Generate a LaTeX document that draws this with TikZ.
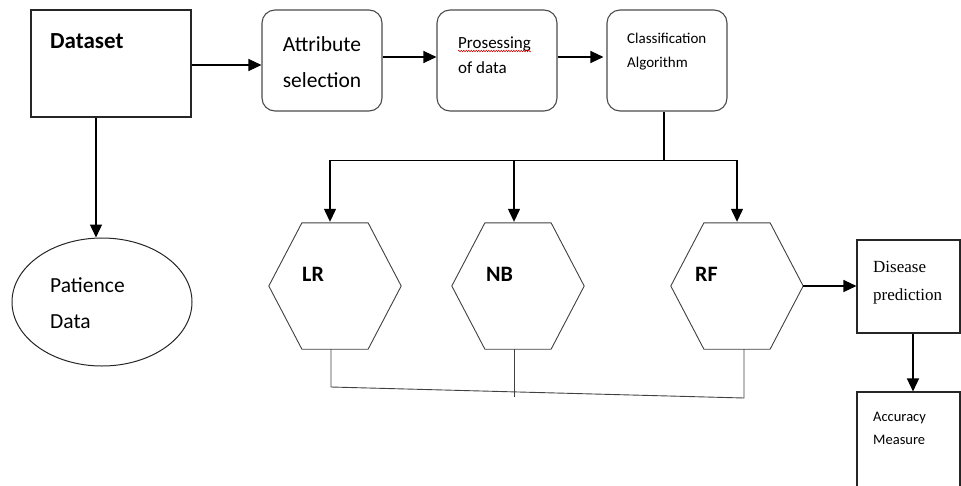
\documentclass[tikz,border=0pt]{standalone}
\usepackage{fontspec}
\setmainfont{Carlito}
\newfontfamily\timesf{Liberation Serif}
\usetikzlibrary{arrows.meta,shapes.geometric,calc,decorations.pathmorphing}
\begin{document}
\begin{tikzpicture}[x=1pt,y=-1pt,
  box/.style={draw=black!85,line width=1.1pt,inner sep=0pt},
  rbox/.style={box,rounded corners=13pt,draw=black!70},
  hexa/.style={inner sep=0pt,minimum width=132pt,minimum height=126pt},
  hexline/.style={draw=black!75,line width=0.9pt},
  conn/.style={line width=1.3pt,black},
  arr/.style={conn,-{Triangle[length=13pt,width=12pt]}},
  txt/.style={inner sep=0pt,anchor=base west}]
\useasboundingbox (0,0) rectangle (961,485);
\clip (0,0) rectangle (961,485);
% boxes
\node[box,minimum width=160pt,minimum height=107pt] (ds) at (111,63.5) {};
\node[rbox,minimum width=120pt,minimum height=101pt] (at) at (322,60.5) {};
\node[rbox,minimum width=120pt,minimum height=101pt] (pr) at (497,60.5) {};
\node[rbox,minimum width=120pt,minimum height=101pt] (cl) at (667,60.5) {};
\node[box,minimum width=103pt,minimum height=93pt] (dp) at (908.5,286.5) {};
\node[box,minimum width=103pt,minimum height=110pt] (ac) at (908.5,447) {};
\node[ellipse,box,line width=1pt,minimum width=180pt,minimum height=128pt] (pd) at (102,302) {};
% hexagons
\node[hexa] (LR) at (335,286) {};
\node[hexa] (NB) at (518,286) {};
\node[hexa] (RF) at (737,286) {};
\foreach \h in {LR,NB,RF}{
  \draw[hexline] (\h.west) -- ($(\h.north west)!0.25!(\h.north east)$)
    -- ($(\h.north west)!0.75!(\h.north east)$) -- (\h.east)
    -- ($(\h.south west)!0.75!(\h.south east)$)
    -- ($(\h.south west)!0.25!(\h.south east)$) -- cycle;
}
% texts
\node[txt,font=\fontsize{23}{27}\selectfont\bfseries] (tds) at (50,48) {Dataset};
\node[inner sep=0pt,anchor=base,font=\fontsize{21.5}{26}\selectfont] (tat1) at (322,51) {Attribute};
\node[inner sep=0pt,anchor=base,font=\fontsize{21.5}{26}\selectfont] (tat2) at (322,87) {selection};
\node[txt,font=\fontsize{17}{20}\selectfont] (tpr1) at (458,48) {Prosessing};
\node[txt,font=\fontsize{17}{20}\selectfont] (tpr2) at (458,73) {of data};
\draw[red!80!black,line width=0.5pt,decorate,decoration={snake,amplitude=0.8pt,segment length=2.5pt}]
  ([yshift=-3pt]tpr1.base west) -- ([yshift=-3pt]tpr1.base east);
\node[txt,font=\fontsize{15}{18}\selectfont] (tcl1) at (627,43) {Classification};
\node[txt,font=\fontsize{15}{18}\selectfont] (tcl2) at (627,67) {Algorithm};
\node[txt,font=\fontsize{22}{26}\selectfont\bfseries] (tLR) at (302,281) {LR};
\node[txt,font=\fontsize{22}{26}\selectfont\bfseries] (tNB) at (486,281) {NB};
\node[txt,font=\fontsize{22}{26}\selectfont\bfseries] (tRF) at (695,281) {RF};
\node[txt,font=\fontsize{21.5}{26}\selectfont] (tpd1) at (50,292) {Patience};
\node[txt,font=\fontsize{21.5}{26}\selectfont] (tpd2) at (50,328) {Data};
\node[txt,font=\fontsize{17}{20}\selectfont\timesf] (tdp1) at (873,272) {Disease};
\node[txt,font=\fontsize{17}{20}\selectfont\timesf] (tdp2) at (873,300) {prediction};
\node[txt,font=\fontsize{14.5}{17}\selectfont] (tac1) at (873,421) {Accuracy};
\node[txt,font=\fontsize{14.5}{17}\selectfont] (tac2) at (873,444) {Measure};
% connectors
\draw[arr] ([yshift=-1.5pt]ds.east) -- ([yshift=-1.5pt]ds.east -| at.west);
\draw[arr] ([yshift=3.5pt]at.east) -- ([yshift=3.5pt]pr.west);
\draw[arr] ([yshift=3.5pt]pr.east) -- ([yshift=3.5pt,xshift=-3pt]cl.west);
\draw[arr] ([xshift=-15pt]ds.south) -- ([xshift=-15pt]ds.south |- pd.north);
\coordinate (bus) at ([xshift=-3pt,yshift=-49pt]cl.south);
\draw[conn] ([xshift=-3pt]cl.south) -- (bus);
\draw[arr] (bus) -| ([xshift=-5pt,yshift=1pt]LR.north);
\draw[arr] (bus) -| ([yshift=1pt]RF.north);
\draw[arr] ([xshift=-4pt]NB.north |- bus) -- ([xshift=-4pt,yshift=1pt]NB.north);
\coordinate (jl) at (331,387);
\coordinate (jr) at (744,398);
\draw[hexline] ([xshift=-4pt]LR.south) -- (jl) -- (jr) -- ([xshift=7pt]RF.south);
\draw[hexline] ([xshift=-4pt]NB.south) -- ++(0,48);
\draw[arr] (RF.east) -- (RF.east -| dp.west);
\draw[arr] ([xshift=4.5pt]dp.south) -- ([xshift=4.5pt]dp.south |- ac.north);
\end{tikzpicture}
\end{document}
